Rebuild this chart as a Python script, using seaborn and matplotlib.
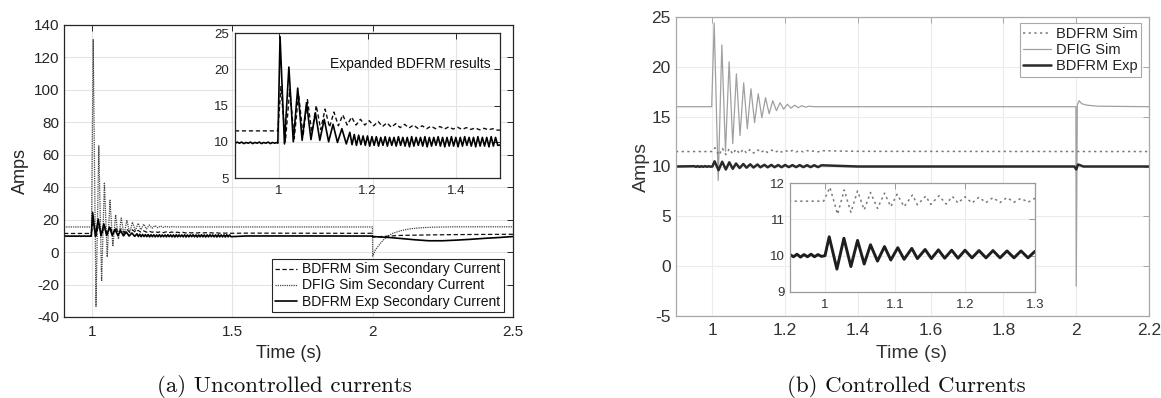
import numpy as np
import pandas as pd
import matplotlib
matplotlib.use("Agg")
import matplotlib.pyplot as plt
import seaborn as sns
from matplotlib.lines import Line2D
from matplotlib.ticker import FuncFormatter

# ---------------- data: panel (a) uncontrolled currents ----------------
simA_t = ([0.90, 0.997] + list(np.round(np.arange(1.004, 1.495, 0.01), 3))
          + [1.55, 1.70, 1.90, 1.998, 2.0, 2.05, 2.10, 2.20, 2.30, 2.50])
simA_v = [11.5, 11.5,
          17.6, 10.0, 17.2, 10.4, 16.6, 10.8, 15.8, 11.3, 15.0, 11.7,
          14.5, 12.0, 14.1, 12.2, 13.7, 12.3, 13.4, 12.3, 13.1, 12.3,
          12.9, 12.2, 12.8, 12.1, 12.6, 12.0, 12.5, 11.95, 12.4, 11.9,
          12.3, 11.85, 12.2, 11.8, 12.15, 11.8, 12.1, 11.75, 12.05, 11.75,
          12.0, 11.7, 11.95, 11.7, 11.9, 11.65, 11.85, 11.65, 11.8, 11.6,
          11.7, 11.65, 11.6, 11.6, 9.3, 9.8, 10.3, 10.6, 10.8, 11.0]

dfigA_t = ([0.90, 0.998] + list(np.round(np.arange(1.004, 1.285, 0.01), 3))
           + [1.30, 1.999, 2.0, 2.01, 2.03, 2.05, 2.07, 2.10, 2.13, 2.17, 2.22, 2.30, 2.50])
dfigA_v = [15.5, 15.5,
           131, -33.5, 65.5, -18, 43, -3, 32, 3.5, 23, 8,
           21, 10.5, 19.5, 12, 18.5, 13, 17.8, 13.8, 17.2, 14.3,
           16.7, 14.7, 16.4, 15.0, 16.1, 15.2, 15.9, 15.3, 15.7,
           15.5, 15.5, -2.5, 1.5, 6, 9.5, 11.5, 13.2, 14.3, 15.0, 15.4, 15.6, 15.6]

expA_pre_t = list(np.round(np.arange(0.90, 0.996, 0.005), 3))
expA_pre_v = [9.75, 9.95, 9.8, 9.95, 9.75, 9.9, 9.8, 9.95, 9.75, 9.9,
              9.8, 9.95, 9.75, 9.9, 9.8, 9.95, 9.75, 9.9, 9.8, 9.9]
expA_tr_t = [0.997, 1.002, 1.012, 1.022, 1.032, 1.042, 1.052, 1.062, 1.072,
             1.082, 1.092, 1.102, 1.112, 1.122, 1.132, 1.142, 1.152, 1.160]
expA_tr_v = [9.8, 24.5, 9.7, 20.3, 10.0, 17.4, 10.2, 15.4, 10.3,
             14.0, 10.2, 13.1, 10.0, 12.4, 9.9, 11.8, 9.7, 11.3]
expA_rip_t = list(np.round(np.arange(1.165, 1.4975, 0.005), 3))
expA_rip_v = [9.6, 11.0, 9.5, 10.9, 9.6, 10.8, 9.5, 10.8, 9.4, 10.7,
              9.5, 10.7, 9.4, 10.6, 9.5, 10.7, 9.4, 10.6, 9.5, 10.6,
              9.4, 10.7, 9.5, 10.6, 9.4, 10.6, 9.3, 10.7, 9.4, 10.6,
              9.5, 10.6, 9.4, 10.7, 9.3, 10.6, 9.4, 10.6, 9.5, 10.7,
              9.4, 10.6, 9.3, 10.6, 9.4, 10.7, 9.4, 10.6, 9.3, 10.6,
              9.4, 10.7, 9.5, 10.6, 9.4, 10.6, 9.3, 10.7, 9.4, 10.6,
              9.4, 10.6, 9.3, 10.7, 9.4, 10.6, 9.5]
expA_post_t = [1.55, 1.75, 1.998, 2.0, 2.03, 2.06, 2.10, 2.15, 2.20, 2.25, 2.30, 2.35, 2.40, 2.45, 2.50]
expA_post_v = [9.95, 9.95, 9.9, 9.6, 9.3, 9.0, 8.4, 7.6, 7.0, 7.0, 7.4, 7.9, 8.5, 9.0, 9.6]

# ---------------- data: panel (b) controlled currents ----------------
dfigB_t = ([0.90, 0.998, 1.005] + list(np.round(np.arange(1.016, 1.267, 0.01), 3))
           + [1.28, 1.999, 2.0, 2.003, 2.008, 2.015, 2.03, 2.06, 2.20])
dfigB_v = [16.0, 16.0,
           24.4, 8.6, 22.2, 11.5, 20.5, 12.3, 19.3, 13.1, 18.4, 13.8,
           17.8, 14.4, 17.3, 14.9, 16.9, 15.3, 16.6, 15.6, 16.4, 15.75,
           16.25, 15.85, 16.15, 15.9, 16.1, 15.95, 16.05,
           16.0, 16.0, -2.0, 16.2, 16.6, 16.3, 16.15, 16.05, 16.0]

simB_t = [0.90, 0.998, 1.007, 1.018, 1.0275, 1.037, 1.0465, 1.056, 1.065, 1.075,
          1.085, 1.094, 1.103, 1.113, 1.125, 1.132, 1.144, 1.151, 1.163, 1.173,
          1.182, 1.19, 1.20, 1.21, 1.22, 1.23, 1.24, 1.25, 1.26, 1.27, 1.28, 1.29,
          1.30, 1.40, 2.20]
simB_v = [11.5, 11.5, 11.88, 11.14, 11.81, 11.19, 11.78, 11.26, 11.74, 11.30,
          11.72, 11.35, 11.69, 11.35, 11.67, 11.40, 11.64, 11.41, 11.65, 11.42,
          11.63, 11.45, 11.62, 11.45, 11.61, 11.46, 11.60, 11.46, 11.60, 11.47,
          11.58, 11.47, 11.58, 11.52, 11.50]

expB_t = [0.90, 0.95, 0.955, 0.96, 0.965, 0.97, 0.975, 0.98, 0.985, 0.99, 0.995, 1.0,
          1.006, 1.017, 1.027, 1.037, 1.0465, 1.056, 1.065, 1.075, 1.085, 1.094,
          1.104, 1.113, 1.124, 1.132, 1.143, 1.152, 1.162, 1.171, 1.181, 1.19,
          1.20, 1.21, 1.22, 1.23, 1.24, 1.25, 1.26, 1.27, 1.28, 1.29, 1.30,
          1.40, 1.995, 2.0, 2.005, 2.02, 2.20]
expB_v = [10.0, 10.03, 9.97, 10.04, 9.96, 10.03, 9.97, 10.04, 9.97, 10.03, 9.98, 10.0,
          10.52, 9.63, 10.48, 9.70, 10.42, 9.77, 10.30, 9.85, 10.25, 9.88,
          10.22, 9.90, 10.20, 9.92, 10.17, 9.92, 10.16, 9.93, 10.15, 9.93,
          10.15, 9.94, 10.14, 9.94, 10.14, 9.94, 10.13, 9.94, 10.13, 9.94, 10.12,
          10.0, 10.0, 9.7, 10.2, 10.0, 10.0]

labelsA = ["BDFRM Sim Secondary Current", "DFIG Sim Secondary Current", "BDFRM Exp Secondary Current"]
labelsB = ["BDFRM Sim", "DFIG Sim", "BDFRM Exp"]
captionA = "(a) Uncontrolled currents"
captionB = "(b) Controlled Currents"

expA_t = expA_pre_t + expA_tr_t + expA_rip_t + expA_post_t
expA_v = expA_pre_v + expA_tr_v + expA_rip_v + expA_post_v

# ---------------- figure ----------------
sns.set_style("white")
plt.rcParams['font.family'] = ['Liberation Sans', 'DejaVu Sans']

W, H = 1161, 398
fig = plt.figure(figsize=(W / 100, H / 100), dpi=100)


def box(x0, y0, x1, y1):
    return [x0 / W, (H - y1) / H, (x1 - x0) / W, (y1 - y0) / H]


axA = fig.add_axes(box(64, 25, 513, 317))
insA = fig.add_axes(box(235, 33, 500, 178))
axB = fig.add_axes(box(676, 17, 1149, 316))
insB = fig.add_axes(box(790, 183, 1035, 292))

fmt = FuncFormatter(lambda v, p: "%g" % v)

DARK = "#262626"


def line(ax, t, v, color, lw, ls="-", dashes=None):
    df = pd.DataFrame({"t": t, "v": v})
    sns.lineplot(data=df, x="t", y="v", ax=ax, color=color, linewidth=lw,
                 linestyle=ls, sort=False, estimator=None)
    ln = ax.lines[-1]
    if dashes is not None:
        ln.set_dashes(dashes)
    return ln


def style(ax, frame, labcol, lsize, pad_x, pad_y, grid="#e4e4e4"):
    ax.set_facecolor("white")
    ax.grid(True, color=grid, linewidth=0.8)
    ax.set_axisbelow(True)
    for s in ax.spines.values():
        s.set_color(frame)
        s.set_linewidth(0.9)
        s.set_visible(True)
    ax.tick_params(axis="both", direction="in", top=True, right=True, length=4,
                   width=0.7, color=frame, labelcolor=labcol, labelsize=lsize)
    ax.tick_params(axis="x", pad=pad_x)
    ax.tick_params(axis="y", pad=pad_y)
    ax.xaxis.set_major_formatter(fmt)
    ax.yaxis.set_major_formatter(fmt)
    ax.set_xlabel("")
    ax.set_ylabel("")


# ---- panel (a) main
line(axA, dfigA_t, dfigA_v, "#454545", 0.9, ":", (1.0, 0.8))
line(axA, simA_t, simA_v, "#111111", 0.9, "--", (3.5, 2.0))
line(axA, expA_t, expA_v, "#000000", 1.2)
axA.set_xlim(0.9, 2.5)
axA.set_ylim(-40, 140)
axA.set_xticks([1, 1.5, 2, 2.5])
axA.set_yticks(np.arange(-40, 141, 20))
style(axA, DARK, DARK, 11, 6, 3.5)

handlesA = [Line2D([], [], color="#111111", lw=0.9, ls=(0, (3.5, 2.0))),
            Line2D([], [], color="#454545", lw=0.9, ls=(0, (1.0, 0.8))),
            Line2D([], [], color="#000000", lw=1.2)]
legA = axA.legend(handlesA, labelsA, loc="lower right", bbox_to_anchor=(0.98, 0.017),
                  borderaxespad=0, fontsize=10, handlelength=1.6, handletextpad=0.35,
                  labelspacing=0.15, borderpad=0.25, fancybox=False, framealpha=1,
                  edgecolor=DARK)
legA.get_frame().set_linewidth(0.8)
for tx in legA.get_texts():
    tx.set_color("#111111")

# ---- panel (a) inset
line(insA, simA_t, simA_v, "#111111", 1.0, "--", (3.0, 2.0))
line(insA, expA_t, expA_v, "#000000", 1.2)
insA.set_xlim(0.9, 1.5)
insA.set_ylim(5, 25)
insA.set_xticks([1, 1.2, 1.4])
insA.set_yticks([5, 10, 15, 20, 25])
style(insA, DARK, DARK, 9.5, 5.3, 4.3)
insA.text(0.966, 0.786, "Expanded BDFRM results", transform=insA.transAxes,
          ha="right", va="center", fontsize=10, color="#111111")

# ---- panel (b) main
GREYF = "#a8a8a8"
line(axB, dfigB_t, dfigB_v, "#a0a0a0", 0.9)
line(axB, simB_t, simB_v, "#7a7a7a", 1.1, ":", (1.5, 2.2))
line(axB, expB_t, expB_v, "#2a2a2a", 1.8)
axB.set_xlim(0.9, 2.2)
axB.set_ylim(-5, 25)
axB.set_xticks([1, 1.2, 1.4, 1.6, 1.8, 2, 2.2])
axB.set_yticks(np.arange(-5, 26, 5))
style(axB, GREYF, "#333333", 12.5, 5.3, 3.8, grid="#ececec")

handlesB = [Line2D([], [], color="#7a7a7a", lw=1.1, ls=(0, (1.5, 2.2))),
            Line2D([], [], color="#a0a0a0", lw=0.9),
            Line2D([], [], color="#2a2a2a", lw=1.8)]
legB = axB.legend(handlesB, labelsB, loc="upper right", bbox_to_anchor=(0.983, 0.98),
                  borderaxespad=0, fontsize=10.5, handlelength=1.9, handletextpad=0.3,
                  labelspacing=0.15, borderpad=0.25, fancybox=False, framealpha=1,
                  edgecolor=GREYF)
legB.get_frame().set_linewidth(0.8)
for tx in legB.get_texts():
    tx.set_color("#222222")

# ---- panel (b) inset
line(insB, simB_t, simB_v, "#7a7a7a", 1.1, ":", (1.5, 2.2))
line(insB, expB_t, expB_v, "#1e1e1e", 2.1)
insB.set_xlim(0.95, 1.3)
insB.set_ylim(9, 12)
insB.set_xticks([1, 1.1, 1.2, 1.3])
insB.set_yticks([9, 10, 11, 12])
style(insB, "#9a9a9a", "#333333", 9.5, 5.3, 3.6, grid="#ececec")

# ---- labels and captions
fig.text(20 / W, 1 - 171 / H, "Amps", rotation=90, ha="center", va="center",
         fontsize=13, color=DARK)
fig.text(289 / W, 1 - 354 / H, "Time (s)", ha="center", va="center",
         fontsize=13, color=DARK)
fig.text(641 / W, 1 - 167 / H, "Amps", rotation=90, ha="center", va="center",
         fontsize=14, color="#333333")
fig.text(912 / W, 1 - 354 / H, "Time (s)", ha="center", va="center",
         fontsize=14, color="#333333")
fig.text(284 / W, 1 - 386 / H, captionA, ha="center", va="center",
         fontsize=16.5, family="cmr10", color="#111111")
fig.text(906 / W, 1 - 386 / H, captionB, ha="center", va="center",
         fontsize=16.5, family="cmr10", color="#111111")

fig.savefig("out.png", dpi=100, facecolor="white")
